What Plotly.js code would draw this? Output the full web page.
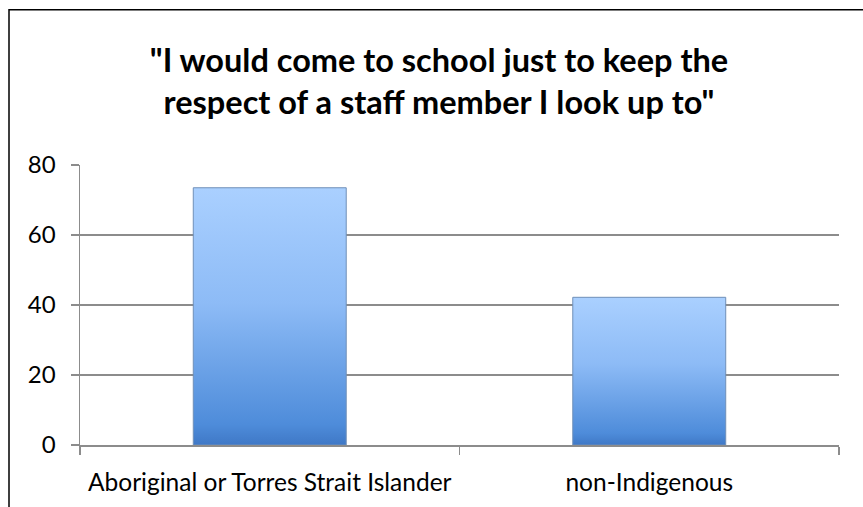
<!DOCTYPE html>
<html>
<head>
<meta charset="utf-8">
<script src="https://cdn.plot.ly/plotly-3.0.1.min.js"></script>
<style>
html,body{margin:0;padding:0;background:#fff;}
#chart{width:863px;height:507px;}
</style>
</head>
<body>
<div id="chart"></div>
<script>
var categories = ["Aboriginal or Torres Strait Islander", "non-Indigenous"];
var values = [73.5, 42.2];
var yTicks = [0, 20, 40, 60, 80];
var titleText = '"I would come to school just to keep the<br>respect of a staff member I look up to"';

var trace = {
  type: 'bar',
  x: categories,
  y: values,
  marker: {color: '#86B5F5', line: {color: '#6F8FB8', width: 1}},
  hoverinfo: 'none'
};

var layout = {
  width: 863, height: 507,
  margin: {l: 80, r: 24, t: 165, b: 62},
  paper_bgcolor: '#ffffff', plot_bgcolor: '#ffffff',
  bargap: 0.597,
  showlegend: false,
  title: {
    text: titleText,
    font: {family: 'Lato, "Open Sans", sans-serif', size: 32.5, color: '#000000', weight: 'bold'},
    xref: 'container', x: 439 / 863, xanchor: 'center',
    yref: 'container', y: 1 - 72 / 507, yanchor: 'middle'
  },
  font: {family: 'Lato, "Open Sans", sans-serif', size: 24, color: '#000000'},
  xaxis: {
    type: 'category',
    showline: true, linecolor: '#8C8C8C', linewidth: 1.5,
    ticks: 'outside', ticklen: 8, tickcolor: '#8C8C8C', tickwidth: 1.5,
    tickson: 'boundaries',
    showgrid: false, zeroline: false,
    tickangle: 0,
    tickfont: {size: 24.5},
    ticklabelstandoff: 15
  },
  yaxis: {
    range: [0, 80],
    tickvals: yTicks,
    showline: true, linecolor: '#8C8C8C', linewidth: 1.5,
    ticks: 'outside', ticklen: 8, tickcolor: '#8C8C8C', tickwidth: 1.5,
    showgrid: true, gridcolor: '#8C8C8C', gridwidth: 1.5,
    zeroline: false,
    tickfont: {size: 24},
    ticklabelstandoff: 10
  },
  shapes: [{
    type: 'rect', xref: 'paper', yref: 'paper',
    x0: (9 - 80) / 759, x1: 1.1, y0: -0.4, y1: (445.3 - 9) / 280.6,
    line: {color: '#000000', width: 1.5}, fillcolor: 'rgba(0,0,0,0)', layer: 'below'
  }]
};

Plotly.newPlot('chart', [trace], layout, {displayModeBar: false, staticPlot: true}).then(function(gd){
  var svg = gd.querySelector('svg.main-svg');
  var ns = 'http://www.w3.org/2000/svg';
  var defs = svg.querySelector('defs') || svg.insertBefore(document.createElementNS(ns, 'defs'), svg.firstChild);
  var grad = document.createElementNS(ns, 'linearGradient');
  grad.setAttribute('id', 'barGrad');
  grad.setAttribute('x1', '0'); grad.setAttribute('y1', '0');
  grad.setAttribute('x2', '0'); grad.setAttribute('y2', '1');
  [['0', '#AAD0FF'], ['0.45', '#8DBBF6'], ['0.92', '#4E8CDA'], ['1', '#3F78C6']].forEach(function(s){
    var st = document.createElementNS(ns, 'stop');
    st.setAttribute('offset', s[0]); st.setAttribute('stop-color', s[1]);
    grad.appendChild(st);
  });
  defs.appendChild(grad);
  gd.querySelectorAll('.bars .point path').forEach(function(p){
    p.style.fill = 'url(#barGrad)';
  });
});
</script>
</body>
</html>
